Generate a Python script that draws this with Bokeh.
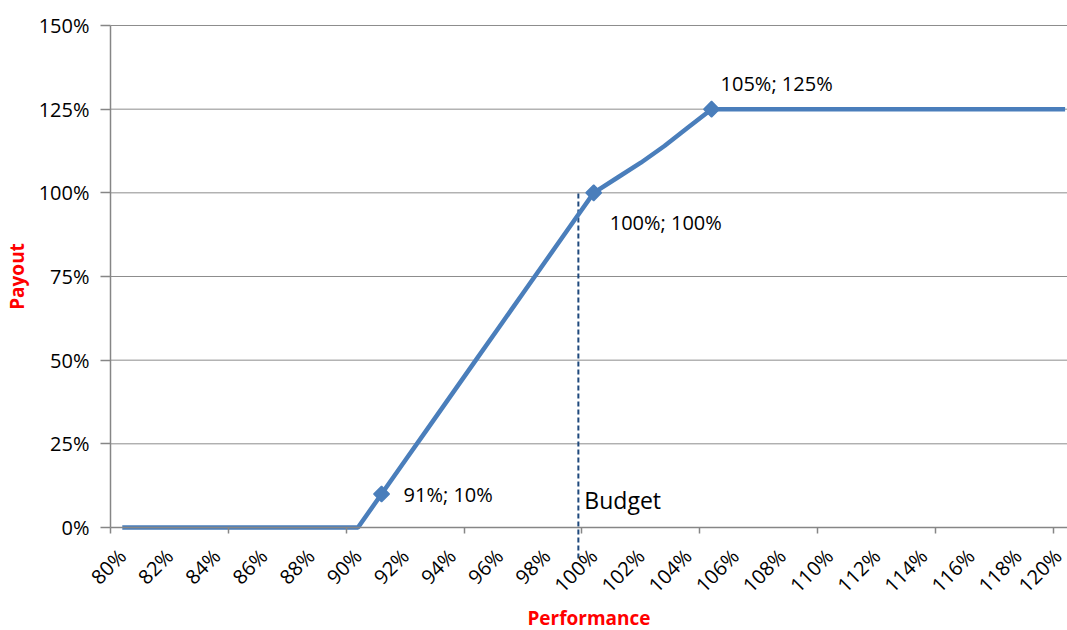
import math

from bokeh.core.properties import value
from bokeh.embed import file_html
from bokeh.models import ColumnDataSource, FixedTicker, Range1d
from bokeh.plotting import figure
from bokeh.resources import INLINE

# Payout curve: performance (% of budget) against payout (% of target)
performance = list(range(80, 121))
payout = (
    [0] * 11
    + [10, 20, 30, 40, 50, 60, 70, 80, 90, 100, 104.5, 109, 114, 119.5, 125]
    + [125] * 15
)

# Highlighted points on the curve
key_performance = [91, 100, 105]
key_payout = [10, 100, 125]

# Budget reference line
budget_position = 99.35
budget_text = "Budget"

# Axis ticks
x_tick_values = list(range(80, 121, 2))
x_tick_labels = [f"{v}%" for v in x_tick_values]
y_tick_values = [0, 25, 50, 75, 100, 125, 150]
y_tick_labels = [f"{v}%" for v in y_tick_values]

FONT = "Open Sans"
BLUE = "#4A7EBB"
GRID = "#8C8C8C"
AXIS = "#868686"

X_START, X_END = 74.833, 120.102   # category axis: plot area begins at 79.5
Y_START, Y_END = -30.78, 157.47    # value axis: plot area spans 0..150

# The frame covers the whole canvas; both axes are pinned inside it so that
# the budget line can cross the x axis and no axis text is clipped.
p = figure(
    width=1067,
    height=630,
    x_range=Range1d(X_START, X_END),
    y_range=Range1d(Y_START, Y_END),
    output_backend="svg",
    toolbar_location=None,
    min_border_left=0,
    min_border_right=0,
    min_border_top=0,
    min_border_bottom=0,
)
p.outline_line_color = None
p.background_fill_color = "white"
p.border_fill_color = "white"
p.xgrid.visible = False
p.ygrid.visible = False

# x axis at 0%: labels at every second category, tick marks between categories every 5
xaxis = p.xaxis[0]
xaxis.fixed_location = 0
xaxis.bounds = (79.5, X_END)
xaxis.ticker = FixedTicker(
    ticks=x_tick_values,
    minor_ticks=[v - 0.5 for v in range(80, 121, 5)],
)
xaxis.major_label_overrides = dict(zip(x_tick_values, x_tick_labels))
xaxis.major_label_orientation = math.pi / 4
xaxis.axis_line_color = AXIS
xaxis.axis_line_width = 1.5
xaxis.major_tick_line_color = None
xaxis.major_tick_in = 0
xaxis.major_tick_out = 0
xaxis.minor_tick_in = 0
xaxis.minor_tick_out = 6
xaxis.minor_tick_line_color = AXIS
xaxis.minor_tick_line_width = 1.5
xaxis.major_label_standoff = 19
xaxis.major_label_text_font = FONT
xaxis.major_label_text_font_size = "20px"
xaxis.major_label_text_color = "black"
xaxis.axis_label = "Performance"
xaxis.axis_label_text_font = FONT
xaxis.axis_label_text_font_size = "19px"
xaxis.axis_label_text_font_style = "bold"
xaxis.axis_label_text_color = "#FF0000"
xaxis.axis_label_standoff = -6

# y axis at the left edge of the plot area
yaxis = p.yaxis[0]
yaxis.fixed_location = 79.5
yaxis.bounds = (0, 150)
yaxis.ticker = FixedTicker(ticks=y_tick_values)
yaxis.major_label_overrides = dict(zip(y_tick_values, y_tick_labels))
yaxis.major_tick_in = 0
yaxis.major_tick_out = 10
yaxis.major_tick_line_color = AXIS
yaxis.major_tick_line_width = 1.5
yaxis.minor_tick_line_color = None
yaxis.axis_line_color = AXIS
yaxis.axis_line_width = 1.5
yaxis.major_label_standoff = 11
yaxis.major_label_text_font = FONT
yaxis.major_label_text_font_size = "20px"
yaxis.major_label_text_color = "black"
yaxis.axis_label = "Payout"
yaxis.axis_label_text_font = FONT
yaxis.axis_label_text_font_size = "19px"
yaxis.axis_label_text_font_style = "bold"
yaxis.axis_label_text_color = "#FF0000"
yaxis.axis_label_standoff = 6

# horizontal gridlines across the plot area only
grid_values = y_tick_values[1:]
p.segment(
    x0=[79.5] * len(grid_values),
    y0=grid_values,
    x1=[X_END] * len(grid_values),
    y1=grid_values,
    line_color=GRID,
    line_width=1,
)

# Budget marker: dashed vertical line crossing the axis
p.segment(
    x0=[budget_position],
    y0=[-9.3],
    x1=[budget_position],
    y1=[100.7],
    line_color="#1F497D",
    line_width=2,
    line_dash="5 3",
)
p.text(
    x=[budget_position],
    y=[0],
    text=[budget_text],
    x_offset=6,
    y_offset=-27,
    text_font=value(FONT),
    text_font_size="23px",
    text_color="black",
    text_align="left",
    text_baseline="middle",
)

# Payout curve
p.line(performance, payout, line_color=BLUE, line_width=4.5)

key_src = ColumnDataSource(
    dict(
        x=key_performance,
        y=key_payout,
        label=[f"{a}%; {b}%" for a, b in zip(key_performance, key_payout)],
        dx=[22, 16, 9],
        dy=[0, 30, -26],
    )
)
p.scatter(
    "x", "y", source=key_src, marker="square", angle=math.pi / 4,
    size=11, fill_color=BLUE, line_color=BLUE, line_width=1.5,
)
p.text(
    "x",
    "y",
    text="label",
    source=key_src,
    x_offset="dx",
    y_offset="dy",
    text_font=value(FONT),
    text_font_size="20px",
    text_color="black",
    text_align="left",
    text_baseline="middle",
)

open("out.html", "w").write(file_html(p, INLINE))
